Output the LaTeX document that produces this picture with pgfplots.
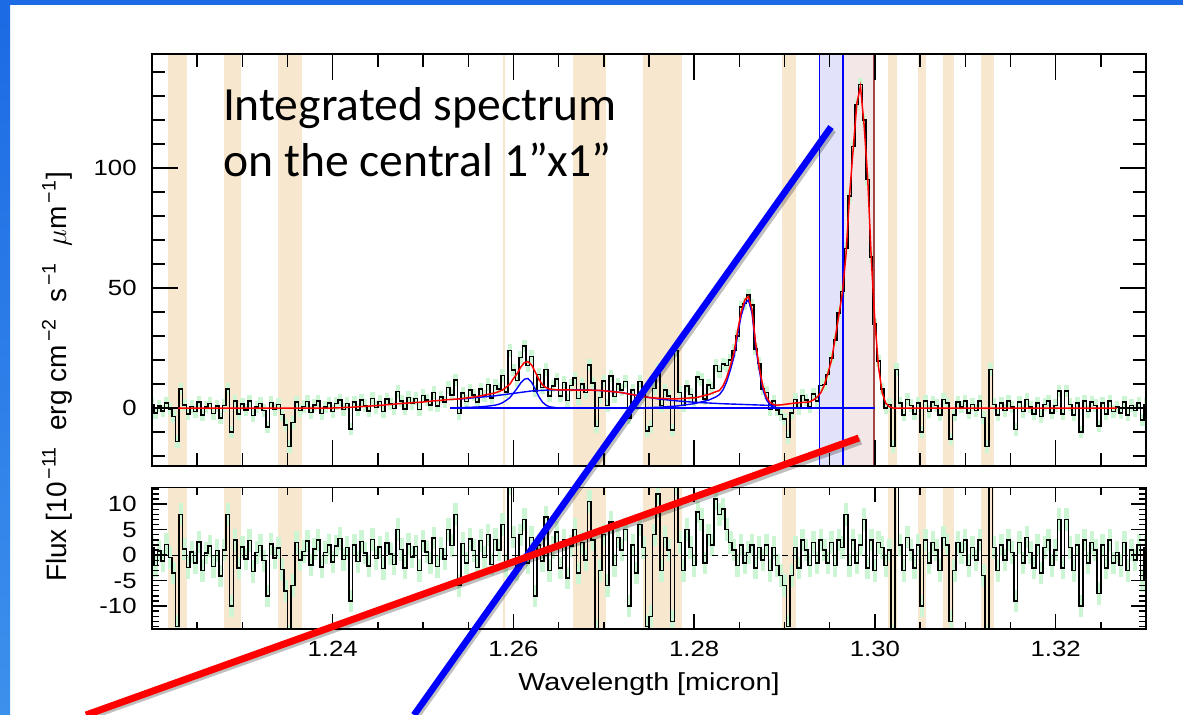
\documentclass[border=0pt]{standalone}
\usepackage{pgfplots}
\pgfplotsset{compat=1.18}
\usepackage{pgfplotstable}
\usepackage{graphicx}
\usepackage{fontspec}
\setmainfont{Liberation Sans}
\newfontfamily\calibri{Carlito}
\definecolor{tanc}{RGB}{247,231,207}
\definecolor{grn}{RGB}{204,245,212}
\definecolor{bandblue}{RGB}{226,226,250}
\definecolor{bandpink}{RGB}{243,231,231}
\definecolor{pinkedge}{RGB}{165,70,70}
\definecolor{slideblue}{RGB}{28,106,228}
\definecolor{slideblue2}{RGB}{60,145,236}
\newcommand{\tl}[1]{\scalebox{1.17}[1]{#1}}
\newcommand{\bands}[2]{%
\fill[tanc] (axis cs:1.22174,#1) rectangle (axis cs:1.22387,#2);
\fill[tanc] (axis cs:1.22796,#1) rectangle (axis cs:1.22981,#2);
\fill[tanc] (axis cs:1.23391,#1) rectangle (axis cs:1.23659,#2);
\fill[tanc] (axis cs:1.25879,#1) rectangle (axis cs:1.25908,#2);
\fill[tanc] (axis cs:1.26657,#1) rectangle (axis cs:1.27019,#2);
\fill[tanc] (axis cs:1.27437,#1) rectangle (axis cs:1.27863,#2);
\fill[tanc] (axis cs:1.28969,#1) rectangle (axis cs:1.29124,#2);
\fill[tanc] (axis cs:1.30142,#1) rectangle (axis cs:1.30243,#2);
\fill[tanc] (axis cs:1.30473,#1) rectangle (axis cs:1.30562,#2);
\fill[tanc] (axis cs:1.30750,#1) rectangle (axis cs:1.30879,#2);
\fill[tanc] (axis cs:1.31170,#1) rectangle (axis cs:1.31314,#2);}

\pgfplotstableread{
w f r m
1.2200 1.5 1.5 0
1.2204 -2.0 -2.0 0
1.2208 0.8 0.8 0
1.2212 -1.2 -1.2 0
1.2216 2.1 2.1 0
1.2220 -0.5 -0.5 0
1.2224 -3.5 -3.5 0
1.2228 -14.0 -14.0 0
1.2232 8.0 8.0 0
1.2236 1.2 1.2 0
1.2240 -2.4 -2.4 0
1.2244 0.6 0.6 0
1.2248 -1.5 -1.5 0
1.2252 2.6 2.6 0
1.2256 -3.0 -3.0 0
1.2260 0.4 0.4 0
1.2264 1.8 1.8 0
1.2268 -2.2 -2.2 0
1.2272 0.9 0.9 0
1.2276 -4.1 -4.1 0
1.2280 1.0 1.0 0
1.2284 8.0 8.0 0
1.2288 -10.0 -10.0 0
1.2292 3.0 3.0 0
1.2296 -2.5 -2.5 0
1.2300 1.6 1.6 0
1.2304 -0.8 -0.8 0
1.2308 2.9 2.9 0
1.2312 -3.2 -3.2 0
1.2316 0.5 0.5 0
1.2320 1.9 1.9 0
1.2324 -1.1 -1.1 0
1.2328 -8.0 -8.0 0
1.2332 2.2 2.2 0
1.2336 -0.6 -0.6 0
1.2340 1.4 1.4 0
1.2344 -2.8 -2.8 0
1.2348 -7.0 -7.0 0
1.2352 -16.0 -16.0 0
1.2356 -6.0 -6.0 0
1.2360 2.5 2.5 0
1.2364 -1.0 -1.0 0
1.2368 0.7 0.7 0
1.2372 2.8 2.8 0
1.2376 -1.9 -1.9 0
1.2380 1.2 1.2 0
1.2384 3.0 3.0 0
1.2388 -2.3 -2.3 0
1.2392 0.5 0.5 0
1.2396 2.0 2.0 0
1.2400 -1.4 -1.4 0
1.2404 1.9 1.8 0.1
1.2408 3.4 3.3 0.1
1.2412 -0.7 -0.9 0.2
1.2416 1.8 1.5 0.3
1.2420 -8.7 -9.0 0.3
1.2424 2.4 2.0 0.4
1.2428 -0.8 -1.3 0.5
1.2432 3.3 2.7 0.6
1.2436 1.1 0.4 0.7
1.2440 -1.3 -2.1 0.8
1.2444 4.0 3.1 0.9
1.2448 0.3 -0.7 1.0
1.2452 2.7 1.6 1.1
1.2456 -1.4 -2.6 1.2
1.2460 3.8 2.4 1.4
1.2464 1.7 0.2 1.5
1.2468 -0.2 -1.8 1.6
1.2472 6.8 5.0 1.8
1.2476 3.0 1.1 1.9
1.2480 -0.5 -2.5 2.0
1.2484 4.3 2.2 2.1
1.2488 1.8 -0.4 2.2
1.2492 4.0 1.7 2.3
1.2496 -0.6 -3.0 2.4
1.2500 5.3 2.8 2.5
1.2504 3.3 0.6 2.7
1.2508 1.2 -1.6 2.8
1.2512 6.4 3.4 3.0
1.2516 0.9 -2.2 3.1
1.2520 4.5 1.3 3.2
1.2524 2.6 -0.8 3.4
1.2528 8.5 5.0 3.5
1.2532 5.5 1.9 3.6
1.2536 11.7 8.0 3.7
1.2540 -2.2 -6.0 3.8
1.2544 6.3 2.3 4.0
1.2548 2.7 -1.5 4.2
1.2552 7.6 3.2 4.4
1.2556 5.5 0.9 4.6
1.2560 2.4 -2.4 4.8
1.2564 8.0 2.9 5.1
1.2568 4.9 -0.5 5.4
1.2572 9.7 4.0 5.7
1.2576 4.2 -1.8 6.0
1.2580 9.4 3.1 6.3
1.2584 7.9 1.0 6.9
1.2588 13.5 6.0 7.5
1.2592 6.7 -2.0 8.7
1.2596 23.9 14.0 9.9
1.2600 15.8 3.5 12.3
1.2604 11.5 -2.8 14.3
1.2608 21.0 4.0 17.0
1.2612 25.9 7.0 18.9
1.2616 17.8 -1.5 19.3
1.2620 21.5 3.5 18.0
1.2624 7.1 -8.0 15.1
1.2628 14.0 2.0 12.0
1.2632 8.5 -1.2 9.7
1.2636 16.0 7.5 8.5
1.2640 4.9 -3.0 7.9
1.2644 9.2 1.5 7.7
1.2648 12.1 4.5 7.6
1.2652 5.1 -2.5 7.6
1.2656 10.6 3.0 7.6
1.2660 3.1 -4.5 7.6
1.2664 9.3 1.8 7.5
1.2668 12.5 5.0 7.5
1.2672 4.0 -3.5 7.5
1.2676 10.0 2.5 7.5
1.2680 6.5 -1.0 7.5
1.2684 17.9 10.5 7.4
1.2688 10.4 3.0 7.4
1.2692 -7.7 -15.0 7.3
1.2696 4.3 -3.0 7.3
1.2700 11.2 4.0 7.2
1.2704 1.0 -6.0 7.0
1.2708 13.4 6.5 6.9
1.2712 4.7 -2.0 6.7
1.2716 10.1 3.5 6.6
1.2720 7.4 1.0 6.4
1.2724 11.1 5.0 6.1
1.2728 -4.2 -10.0 5.8
1.2732 7.6 2.0 5.6
1.2736 1.8 -3.5 5.3
1.2740 11.0 6.0 5.0
1.2744 6.2 1.5 4.7
1.2748 -9.5 -14.0 4.5
1.2752 -7.7 -12.0 4.3
1.2756 8.2 4.0 4.2
1.2760 16.1 12.0 4.1
1.2764 1.0 -3.0 4.0
1.2768 7.4 3.5 3.9
1.2772 4.9 1.0 3.9
1.2776 -9.2 -13.0 3.8
1.2780 24.0 14.0 3.8
1.2784 6.4 2.5 3.9
1.2788 1.0 -3.0 4.0
1.2792 9.1 5.0 4.1
1.2796 5.7 1.5 4.2
1.2800 2.2 -2.0 4.2
1.2804 13.0 8.5 4.5
1.2808 11.9 7.0 4.9
1.2812 3.8 -1.5 5.3
1.2816 9.6 4.0 5.6
1.2820 8.2 2.0 6.2
1.2824 17.8 11.0 6.8
1.2828 15.3 8.0 7.3
1.2832 18.3 9.0 9.3
1.2836 17.7 5.0 12.7
1.2840 20.0 2.5 17.5
1.2844 24.0 1.0 23.0
1.2848 30.0 -2.0 32.0
1.2852 42.0 2.0 40.0
1.2856 43.5 -1.5 45.0
1.2860 47.0 0.5 46.5
1.2864 43.0 2.0 41.0
1.2868 24.5 -2.5 27.0
1.2872 18.5 1.5 17.0
1.2876 8.0 -1.0 9.0
1.2880 6.5 2.0 4.5
1.2884 -0.7 -3.0 2.3
1.2888 2.9 1.5 1.4
1.2892 -0.8 -2.0 1.2
1.2896 -2.7 -4.0 1.3
1.2900 -4.5 -6.0 1.5
1.2904 -12.3 -14.0 1.7
1.2908 -2.1 -4.0 1.9
1.2912 3.6 1.5 2.1
1.2916 -0.3 -2.5 2.2
1.2920 5.3 3.0 2.3
1.2924 3.4 1.0 2.4
1.2928 0.6 -2.0 2.6
1.2932 5.9 2.5 3.4
1.2936 3.0 -1.5 4.5
1.2940 9.3 3.0 6.3
1.2944 9.8 1.0 9.5
1.2948 14.0 -1.5 14.5
1.2952 20.8 2.5 20.0
1.2956 28.3 -2.0 29.0
1.2960 39.5 3.0 38.5
1.2964 48.5 1.5 48.0
1.2968 66.5 8.0 64.0
1.2972 88.3 -2.0 89.0
1.2976 109.0 3.0 108.0
1.2980 126.5 -1.5 127.0
1.2984 134.7 2.0 134.0
1.2988 120.0 7.0 118.0
1.2992 95.2 -2.5 96.0
1.2996 63.0 3.0 62.0
1.3000 35.0 -3.0 36.0
1.3004 19.5 2.5 17.0
1.3008 8.0 1.5 6.5
1.3012 0.0 -2.0 2.0
1.3016 1.5 1.0 0.5
1.3020 -16.0 -16.0 0
1.3024 16.0 16.0 0
1.3028 2.0 2.0 0
1.3032 -3.0 -3.0 0
1.3036 3.5 3.5 0
1.3040 1.0 1.0 0
1.3044 -2.5 -2.5 0
1.3048 2.0 2.0 0
1.3052 -10.0 -10.0 0
1.3056 3.0 3.0 0
1.3060 -1.5 -1.5 0
1.3064 2.5 2.5 0
1.3068 1.0 1.0 0
1.3072 -3.0 -3.0 0
1.3076 3.5 3.5 0
1.3080 2.0 2.0 0
1.3084 -13.0 -13.0 0
1.3088 -3.0 -3.0 0
1.3092 2.5 2.5 0
1.3096 0.5 0.5 0
1.3100 3.0 3.0 0
1.3104 -2.0 -2.0 0
1.3108 1.5 1.5 0
1.3112 -1.0 -1.0 0
1.3116 3.0 3.0 0
1.3120 -4.0 -4.0 0
1.3124 -16.0 -16.0 0
1.3128 16.0 16.0 0
1.3132 1.5 1.5 0
1.3136 -3.0 -3.0 0
1.3140 2.0 2.0 0
1.3144 -1.0 -1.0 0
1.3148 3.0 3.0 0
1.3152 0.5 0.5 0
1.3156 -9.0 -9.0 0
1.3160 2.5 2.5 0
1.3164 -1.5 -1.5 0
1.3168 3.5 3.5 0
1.3172 0.5 0.5 0
1.3176 -2.5 -2.5 0
1.3180 2.0 2.0 0
1.3184 -3.5 -3.5 0
1.3188 1.5 1.5 0
1.3192 3.0 3.0 0
1.3196 -2.0 -2.0 0
1.3200 1.0 1.0 0
1.3204 7.0 7.0 0
1.3208 -2.5 -2.5 0
1.3212 7.0 7.0 0
1.3216 1.5 1.5 0
1.3220 -3.0 -3.0 0
1.3224 2.0 2.0 0
1.3228 -10.0 -10.0 0
1.3232 3.0 3.0 0
1.3236 -1.5 -1.5 0
1.3240 2.5 2.5 0
1.3244 1.0 1.0 0
1.3248 -7.5 -7.5 0
1.3252 2.0 2.0 0
1.3256 -2.5 -2.5 0
1.3260 3.0 3.0 0
1.3264 -1.5 -1.5 0
1.3268 0.5 0.5 0
1.3272 -2.0 -2.0 0
1.3276 2.5 2.5 0
1.3280 -3.0 -3.0 0
1.3284 1.0 1.0 0
1.3288 -1.0 -1.0 0
1.3292 2.0 2.0 0
1.3296 -5.0 -5.0 0
1.3300 1.5 1.5 0
}\spec

\begin{document}
\begin{tikzpicture}
\path[use as bounding box] (0pt,0pt) rectangle (591.5pt,-357pt);
\fill[white] (0pt,0pt) rectangle (591.5pt,-357pt);

\begin{axis}[
  at={(76pt,-233pt)}, anchor=south west,
  width=497pt, height=206pt, scale only axis,
  xmin=1.22, xmax=1.33, ymin=-24.17, ymax=147.5,
  xtick={1.24,1.26,1.28,1.30,1.32},
  xticklabel style={text opacity=0, opacity=0},
  minor xtick={1.225,1.230,...,1.330},
  ytick={0,50,100}, yticklabels={\tl{0},\tl{50},\tl{100}},
  minor ytick={-20,-10,...,140},
  major tick length=13pt, minor tick length=6.5pt,
  tick align=inside,
  tick style={black, line width=0.7pt},
  axis line style={line width=0.8pt},
  yticklabel style={font=\fontsize{11}{13}\selectfont, inner sep=0pt, xshift=-7.5pt},
  axis on top,
]
\bands{-30}{160}
\fill[bandblue] (axis cs:1.29386,-30) rectangle (axis cs:1.29647,160);
\fill[bandpink] (axis cs:1.29647,-30) rectangle (axis cs:1.29987,160);
\addplot[forget plot, draw=none, mark=none,
  error bars/.cd, y dir=both, y fixed=2.6, error mark=none,
  error bar style={draw=grn, line width=2.2pt}] table[x=w,y=f] {\spec};
\addplot[black, line width=0.75pt, const plot mark mid] table[x=w,y=f] {\spec};
\draw[blue, line width=0.8pt] (axis cs:1.29386,-30) -- (axis cs:1.29386,160);
\draw[blue, line width=0.8pt] (axis cs:1.29647,-30) -- (axis cs:1.29647,160);
\draw[pinkedge, line width=0.8pt] (axis cs:1.29987,-30) -- (axis cs:1.29987,160);
% blue model components
\addplot[blue, line width=0.7pt] coordinates {(1.2530,0) (1.3000,0)};
\addplot[blue, line width=0.7pt] coordinates {
(1.2530,0.05) (1.2540,0.15) (1.2560,0.4) (1.2570,0.7) (1.2580,1.2)
(1.2584,1.6) (1.2588,2.2) (1.2592,3.2) (1.2596,4.3) (1.2600,6.2) (1.2604,8.2)
(1.2608,10.4) (1.2612,12.0) (1.2616,12.3) (1.2620,10.8) (1.2624,7.9) (1.2628,4.8)
(1.2632,2.5) (1.2636,1.2) (1.2640,0.5) (1.2648,0.1) (1.2660,0)};
\addplot[blue, line width=0.7pt] coordinates {
(1.2540,3.7) (1.2560,4.4) (1.2580,5.1) (1.2600,6.1) (1.2620,7.1) (1.2640,7.5)
(1.2660,7.6) (1.2680,7.5) (1.2700,7.2) (1.2720,6.4) (1.2740,5.0) (1.2760,3.8)
(1.2780,3.0) (1.2800,2.4) (1.2830,1.8) (1.2860,1.4) (1.2890,1.0)};
\addplot[blue, line width=0.7pt] coordinates {
(1.2740,0) (1.2760,0.3) (1.2780,0.8) (1.2800,1.8) (1.2816,3.3) (1.2824,4.6)
(1.2828,5.6) (1.2832,7.6) (1.2836,11.0) (1.2840,15.8) (1.2844,21.3) (1.2848,30.3)
(1.2852,38.4) (1.2856,43.5) (1.2860,45.0) (1.2864,39.6) (1.2868,25.7) (1.2872,15.8)
(1.2876,7.8) (1.2880,3.4) (1.2884,1.3) (1.2888,0.4) (1.2892,0.1) (1.2900,0)};
% red total model
\addplot[red, line width=0.75pt, restrict x to domain=1.2227:1.3269] table[x=w,y=m] {\spec};
\end{axis}

\begin{axis}[
  at={(76pt,-314.5pt)}, anchor=south west,
  width=497pt, height=70.85pt, scale only axis,
  xmin=1.22, xmax=1.33, ymin=-14.5, ymax=13.3,
  xtick={1.24,1.26,1.28,1.30,1.32},
  xticklabels={\tl{1.24},\tl{1.26},\tl{1.28},\tl{1.30},\tl{1.32}},
  minor xtick={1.225,1.230,...,1.330},
  ytick={-10,-5,0,5,10}, yticklabels={\tl{-10},\tl{-5},\tl{0},\tl{5},\tl{10}},
  minor ytick={-14,-13,...,13},
  major tick length=7.5pt, minor tick length=3.7pt,
  tick align=inside,
  tick style={black, line width=0.7pt},
  axis line style={line width=0.8pt},
  yticklabel style={font=\fontsize{11}{13}\selectfont, inner sep=0pt, xshift=-7.5pt},
  xticklabel style={font=\fontsize{11}{13}\selectfont, inner sep=0pt, yshift=-6pt},
  axis on top,
]
\bands{-20}{20}
\addplot[forget plot, draw=none, mark=none,
  error bars/.cd, y dir=both, y fixed=2.2, error mark=none,
  error bar style={draw=grn, line width=2.2pt}] table[x=w,y=r] {\spec};
\draw[black, line width=0.5pt, dash pattern=on 3pt off 2pt] (axis cs:1.22,0) -- (axis cs:1.33,0);
\addplot[black, line width=0.75pt, const plot mark mid] table[x=w,y=r] {\spec};
\end{axis}

% axis titles
\node[anchor=base, inner sep=0pt, font=\fontsize{12.3}{14}\selectfont] at (324.5pt,-345pt) {\tl{Wavelength [micron]}};
\node[rotate=90, inner sep=0pt, font=\fontsize{14}{16}\selectfont] at (28.5pt,-188.5pt)
  {Flux [10\textsuperscript{\,−11}\ \ erg\ cm\textsuperscript{\,−2}\ \ s\textsuperscript{\,−1}\ \ $\mu$m\textsuperscript{\,−1}]};

% annotation text
\node[anchor=base west, inner sep=0pt, font=\calibri\fontsize{23.8}{28}\selectfont] at (111.3pt,-60pt) {Integrated spectrum};
\node[anchor=base west, inner sep=0pt, font=\calibri\fontsize{23.8}{28}\selectfont] at (111.5pt,-88.35pt) {on the central 1”x1”};

% slide decorations
\fill[slideblue] (0pt,0pt) rectangle (591.5pt,-2.5pt);
\shade[top color=slideblue, bottom color=slideblue2] (0pt,0pt) rectangle (5pt,-357pt);

% overlay pointer lines
\draw[black, opacity=0.25, line width=3.4pt] (416.5pt,-65pt) -- (208pt,-358.5pt);
\draw[blue, line width=3.3pt] (415.5pt,-63.5pt) -- (207pt,-357.5pt);
\draw[black, opacity=0.25, line width=3.6pt] (430.4pt,-220.5pt) -- (44pt,-358.5pt);
\draw[red, line width=3.5pt] (429.4pt,-219pt) -- (43pt,-357.5pt);
\end{tikzpicture}
\end{document}
